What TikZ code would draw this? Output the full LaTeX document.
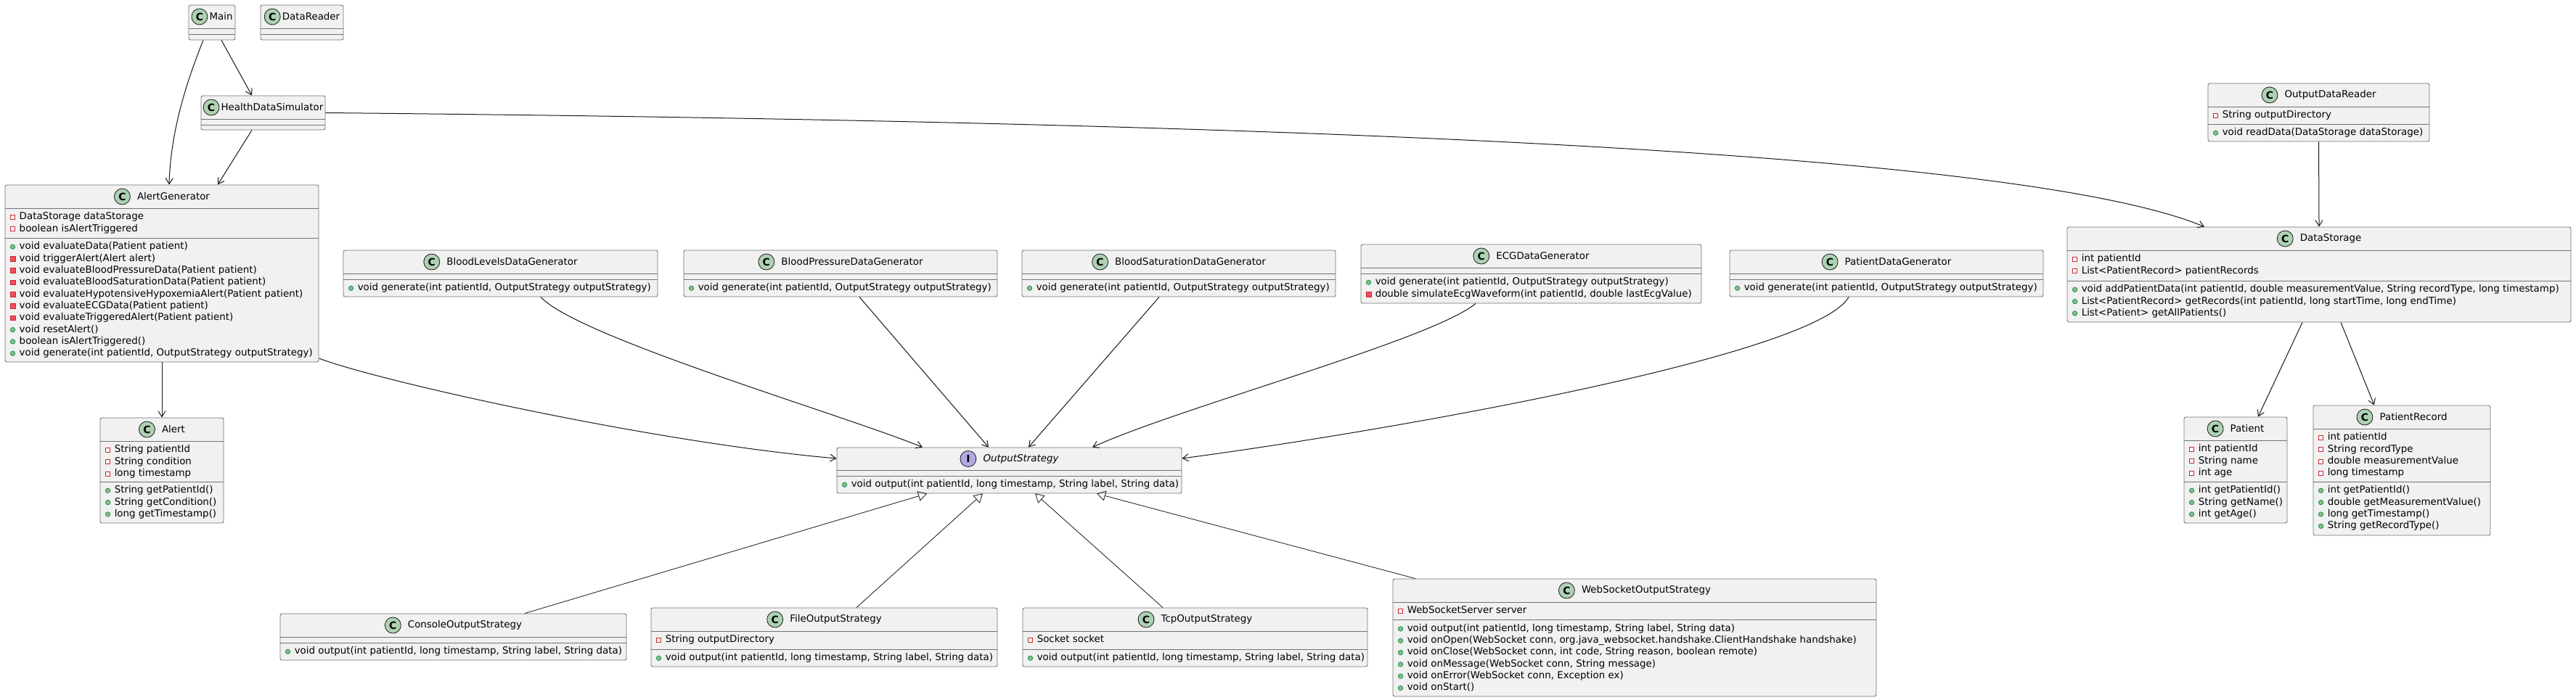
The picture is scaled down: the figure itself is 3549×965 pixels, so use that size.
\documentclass[tikz,border=0pt]{standalone}
\usepackage{fontspec}
\setmainfont{DejaVu Sans}
\usetikzlibrary{arrows.meta,calc,positioning}
\definecolor{boxfill}{HTML}{F1F1F1}
\definecolor{boxline}{HTML}{181818}
\definecolor{cgreen}{HTML}{ADD1B2}
\definecolor{ipurple}{HTML}{B4A7E5}
\definecolor{pubfill}{HTML}{84BE84}
\definecolor{publine}{HTML}{038048}
\definecolor{privline}{HTML}{C82930}
\definecolor{privfill}{HTML}{F24D5C}
\tikzset{
  cls/.style={draw=black!55,fill=boxfill,rounded corners=2.5pt,line width=0.9pt,inner sep=0pt},
  sepline/.style={draw=black!55,line width=0.9pt},
  hdr/.style={inner sep=0pt,font=\fontsize{13.4pt}{16pt}\selectfont},
  mem/.style={anchor=west,inner sep=0pt,text height=9.5pt,text depth=2.7pt,font=\fontsize{13.4pt}{16pt}\selectfont},
  icon/.style={circle,draw=boxline,line width=0.8pt,fill=#1,minimum size=22pt,inner sep=0pt,font=\bfseries\fontsize{14pt}{14pt}\selectfont},
  vpub/.style={circle,draw=publine,fill=pubfill,line width=0.6pt,minimum size=6.5pt,inner sep=0pt},
  vpriv/.style={rectangle,draw=privline,fill=white,line width=0.9pt,minimum size=6pt,inner sep=0pt},
  vprivm/.style={rectangle,draw=privline,fill=privfill,line width=0.6pt,minimum size=6.5pt,inner sep=0pt},
  assoc/.style={draw=boxline,line width=1pt,-{Straight Barb[length=8pt,width=10pt,line width=1pt]}},
  inherit/.style={draw=boxline,line width=0.8pt,-{Triangle[open,length=12pt,width=14pt]}}
}
\newcommand{\classbox}[5]{\node[cls,minimum width={#4-#2},minimum height={#5-#3}] (#1) at ({(#2+#4)/2},{(#3+#5)/2}) {};}
\newcommand{\classhead}[6]{%
  \node[hdr] (#1-n) at ($(#1.north |- 0,#2)+(#3,0)$) {#6};
  \pgfmathsetmacro{\hgap}{2*#3-23}%
  \node[icon=#4,left=\hgap pt of #1-n] (#1-i) {#5};}
\newcommand{\hsep}[2]{\draw[sepline] (#1.west |- 0,#2) -- (#1.east |- 0,#2);}
\newcommand{\members}[4]{%
  \foreach \k/\t [count=\i from 0] in {#4} {
    \node[\k] (#2\i) at ($(#1.west |- 0,#3)+(11,16.33*\i)$) {};
    \node[mem] (#2t\i) at ($(#1.west |- 0,#3)+(20,16.33*\i)$) {\t};}}
\begin{document}
\begin{tikzpicture}[x=1pt,y=-1pt]
\path[use as bounding box,fill=white] (0,0) rectangle (3549,965);

\classbox{main}{260}{7}{324}{55}
\classhead{main}{23}{12.5}{cgreen}{C}{Main}
\hsep{main}{39} \hsep{main}{47}

\classbox{dreader}{359}{7}{473}{55}
\classhead{dreader}{23}{12.5}{cgreen}{C}{DataReader}
\hsep{dreader}{39} \hsep{dreader}{47}

\classbox{hds}{277}{132}{448}{179}
\classhead{hds}{148}{12.5}{cgreen}{C}{HealthDataSimulator}
\hsep{hds}{164} \hsep{hds}{172}

\classbox{ag}{7}{255}{439}{499}
\classhead{ag}{271}{16}{cgreen}{C}{AlertGenerator}
\hsep{ag}{287} \hsep{ag}{328}
\members{ag}{ag-a}{299.3}{vpriv/DataStorage dataStorage, vpriv/boolean isAlertTriggered}
\members{ag}{ag-m}{340.3}{vpub/void evaluateData(Patient patient), vprivm/void triggerAlert(Alert alert),
  vprivm/void evaluateBloodPressureData(Patient patient), vprivm/void evaluateBloodSaturationData(Patient patient),
  vprivm/void evaluateHypotensiveHypoxemiaAlert(Patient patient), vprivm/void evaluateECGData(Patient patient),
  vprivm/void evaluateTriggeredAlert(Patient patient), vpub/void resetAlert(), vpub/boolean isAlertTriggered(),
  vpub/{void generate(int patientId, OutputStrategy outputStrategy)}}

\classbox{alert}{138}{576}{308}{721}
\classhead{alert}{592}{16}{cgreen}{C}{Alert}
\hsep{alert}{608} \hsep{alert}{664}
\members{alert}{alert-a}{620.3}{vpriv/String patientId, vpriv/String condition, vpriv/long timestamp}
\members{alert}{alert-m}{676.3}{vpub/String getPatientId(), vpub/String getCondition(), vpub/long getTimestamp()}

\classbox{bldg}{473}{345}{906}{409}
\classhead{bldg}{361}{16}{cgreen}{C}{BloodLevelsDataGenerator}
\hsep{bldg}{377} \hsep{bldg}{385}
\members{bldg}{bldg-m}{397.3}{vpub/{void generate(int patientId, OutputStrategy outputStrategy)}}

\classbox{bpdg}{942}{345}{1374}{409}
\classhead{bpdg}{361}{16}{cgreen}{C}{BloodPressureDataGenerator}
\hsep{bpdg}{377} \hsep{bpdg}{385}
\members{bpdg}{bpdg-m}{397.3}{vpub/{void generate(int patientId, OutputStrategy outputStrategy)}}

\classbox{bsdg}{1408}{345}{1840}{409}
\classhead{bsdg}{361}{16}{cgreen}{C}{BloodSaturationDataGenerator}
\hsep{bsdg}{377} \hsep{bsdg}{385}
\members{bsdg}{bsdg-m}{397.3}{vpub/{void generate(int patientId, OutputStrategy outputStrategy)}}

\classbox{ecg}{1875}{337}{2344}{418}
\classhead{ecg}{353}{16}{cgreen}{C}{ECGDataGenerator}
\hsep{ecg}{369} \hsep{ecg}{377}
\members{ecg}{ecg-m}{389.3}{vpub/{void generate(int patientId, OutputStrategy outputStrategy)},
  vprivm/{double simulateEcgWaveform(int patientId, double lastEcgValue)}}

\classbox{pdg}{2383}{345}{2815}{409}
\classhead{pdg}{361}{16}{cgreen}{C}{PatientDataGenerator}
\hsep{pdg}{377} \hsep{pdg}{385}
\members{pdg}{pdg-m}{397.3}{vpub/{void generate(int patientId, OutputStrategy outputStrategy)}}

\classbox{odr}{3042}{115}{3347}{195}
\classhead{odr}{131}{16}{cgreen}{C}{OutputDataReader}
\hsep{odr}{147} \hsep{odr}{171}
\members{odr}{odr-a}{159.3}{vpriv/String outputDirectory}
\members{odr}{odr-m}{183.3}{vpub/void readData(DataStorage dataStorage)}

\classbox{ds}{2848}{313}{3542}{444}
\classhead{ds}{329}{16}{cgreen}{C}{DataStorage}
\hsep{ds}{345} \hsep{ds}{387}
\members{ds}{ds-a}{357.3}{vpriv/int patientId, vpriv/List<PatientRecord> patientRecords}
\members{ds}{ds-m}{399.3}{vpub/{void addPatientData(int patientId, double measurementValue, String recordType, long timestamp)},
  vpub/{List<PatientRecord> getRecords(int patientId, long startTime, long endTime)}, vpub/List<Patient> getAllPatients()}

\classbox{pat}{3009}{575}{3151}{721}
\classhead{pat}{591}{16}{cgreen}{C}{Patient}
\hsep{pat}{607} \hsep{pat}{664}
\members{pat}{pat-a}{619.3}{vpriv/int patientId, vpriv/String name, vpriv/int age}
\members{pat}{pat-m}{676.3}{vpub/int getPatientId(), vpub/String getName(), vpub/int getAge()}

\classbox{prec}{3187}{559}{3431}{738}
\classhead{prec}{575}{16}{cgreen}{C}{PatientRecord}
\hsep{prec}{591} \hsep{prec}{664}
\members{prec}{prec-a}{603.3}{vpriv/int patientId, vpriv/String recordType, vpriv/double measurementValue, vpriv/long timestamp}
\members{prec}{prec-m}{676.3}{vpub/int getPatientId(), vpub/double getMeasurementValue(), vpub/long getTimestamp(), vpub/String getRecordType()}

\classbox{os}{1153}{617}{1628}{680}
\classhead{os}{632.5}{16}{ipurple}{I}{\itshape OutputStrategy}
\hsep{os}{648} \hsep{os}{656}
\members{os}{os-m}{668.3}{vpub/{void output(int patientId, long timestamp, String label, String data)}}

\classbox{cos}{386}{846}{863}{910}
\classhead{cos}{862}{16}{cgreen}{C}{ConsoleOutputStrategy}
\hsep{cos}{878} \hsep{cos}{886}
\members{cos}{cos-m}{898.3}{vpub/{void output(int patientId, long timestamp, String label, String data)}}

\classbox{fos}{897}{838}{1374}{919}
\classhead{fos}{854}{16}{cgreen}{C}{FileOutputStrategy}
\hsep{fos}{870} \hsep{fos}{895}
\members{fos}{fos-a}{882.3}{vpriv/String outputDirectory}
\members{fos}{fos-m}{907.3}{vpub/{void output(int patientId, long timestamp, String label, String data)}}

\classbox{tos}{1409}{838}{1884}{919}
\classhead{tos}{854}{16}{cgreen}{C}{TcpOutputStrategy}
\hsep{tos}{870} \hsep{tos}{895}
\members{tos}{tos-a}{882.3}{vpriv/Socket socket}
\members{tos}{tos-m}{907.3}{vpub/{void output(int patientId, long timestamp, String label, String data)}}

\classbox{wsos}{1919}{798}{2585}{960}
\classhead{wsos}{814}{16}{cgreen}{C}{WebSocketOutputStrategy}
\hsep{wsos}{830} \hsep{wsos}{854.6}
\members{wsos}{wsos-a}{842.3}{vpriv/WebSocketServer server}
\members{wsos}{wsos-m}{866.9}{vpub/{void output(int patientId, long timestamp, String label, String data)},
  vpub/{void onOpen(WebSocket conn, org.java\_websocket.handshake.ClientHandshake handshake)},
  vpub/{void onClose(WebSocket conn, int code, String reason, boolean remote)},
  vpub/{void onMessage(WebSocket conn, String message)}, vpub/{void onError(WebSocket conn, Exception ex)},
  vpub/void onStart()}

\foreach \u/\a/\v/\b in {main/13/hds/-15.5, hds/-15.5/ag/77, ag/0/alert/0, bpdg/26/os/-28.5,
  bsdg/-27/os/26.5, odr/0/ds/0, ds/-23/pat/31, ds/30/prec/-38}
  \draw[assoc] ([xshift=\a pt]\u.south) -- ([xshift=\b pt]\v.north);
\draw[assoc] ([xshift=-12pt]main.south) .. controls +(-22,55) and +(2,-75) .. ([xshift=10pt]ag.north);
\draw[assoc] (hds.east) .. controls +(1452,14) and +(-237,-98) .. ([xshift=-158pt]ds.north);
\draw[assoc] ([yshift=-117pt]ag.east) .. controls +(81,31) and +(-253,-22) .. ([yshift=16.5pt]os.west);
\draw[assoc] ([xshift=55.5pt]bldg.south) .. controls +(50,55) and +(-110,-45) .. ([xshift=-119.5pt]os.north);
\draw[assoc] ([xshift=-76.5pt]ecg.south) .. controls +(-60,50) and +(120,-55) .. ([xshift=114.5pt]os.north);
\draw[assoc] ([xshift=-52pt]pdg.south) .. controls +(-45,80) and +(300,-40) .. ([yshift=16.5pt]os.east);
\foreach \u/\a/\b in {cos/98.5/-113.5, fos/44.5/-36.5, tos/-44.5/35.5, wsos/-302/120.5}
  \draw[inherit] ([xshift=\a pt]\u.north) -- ([xshift=\b pt]os.south);
\end{tikzpicture}
\end{document}
